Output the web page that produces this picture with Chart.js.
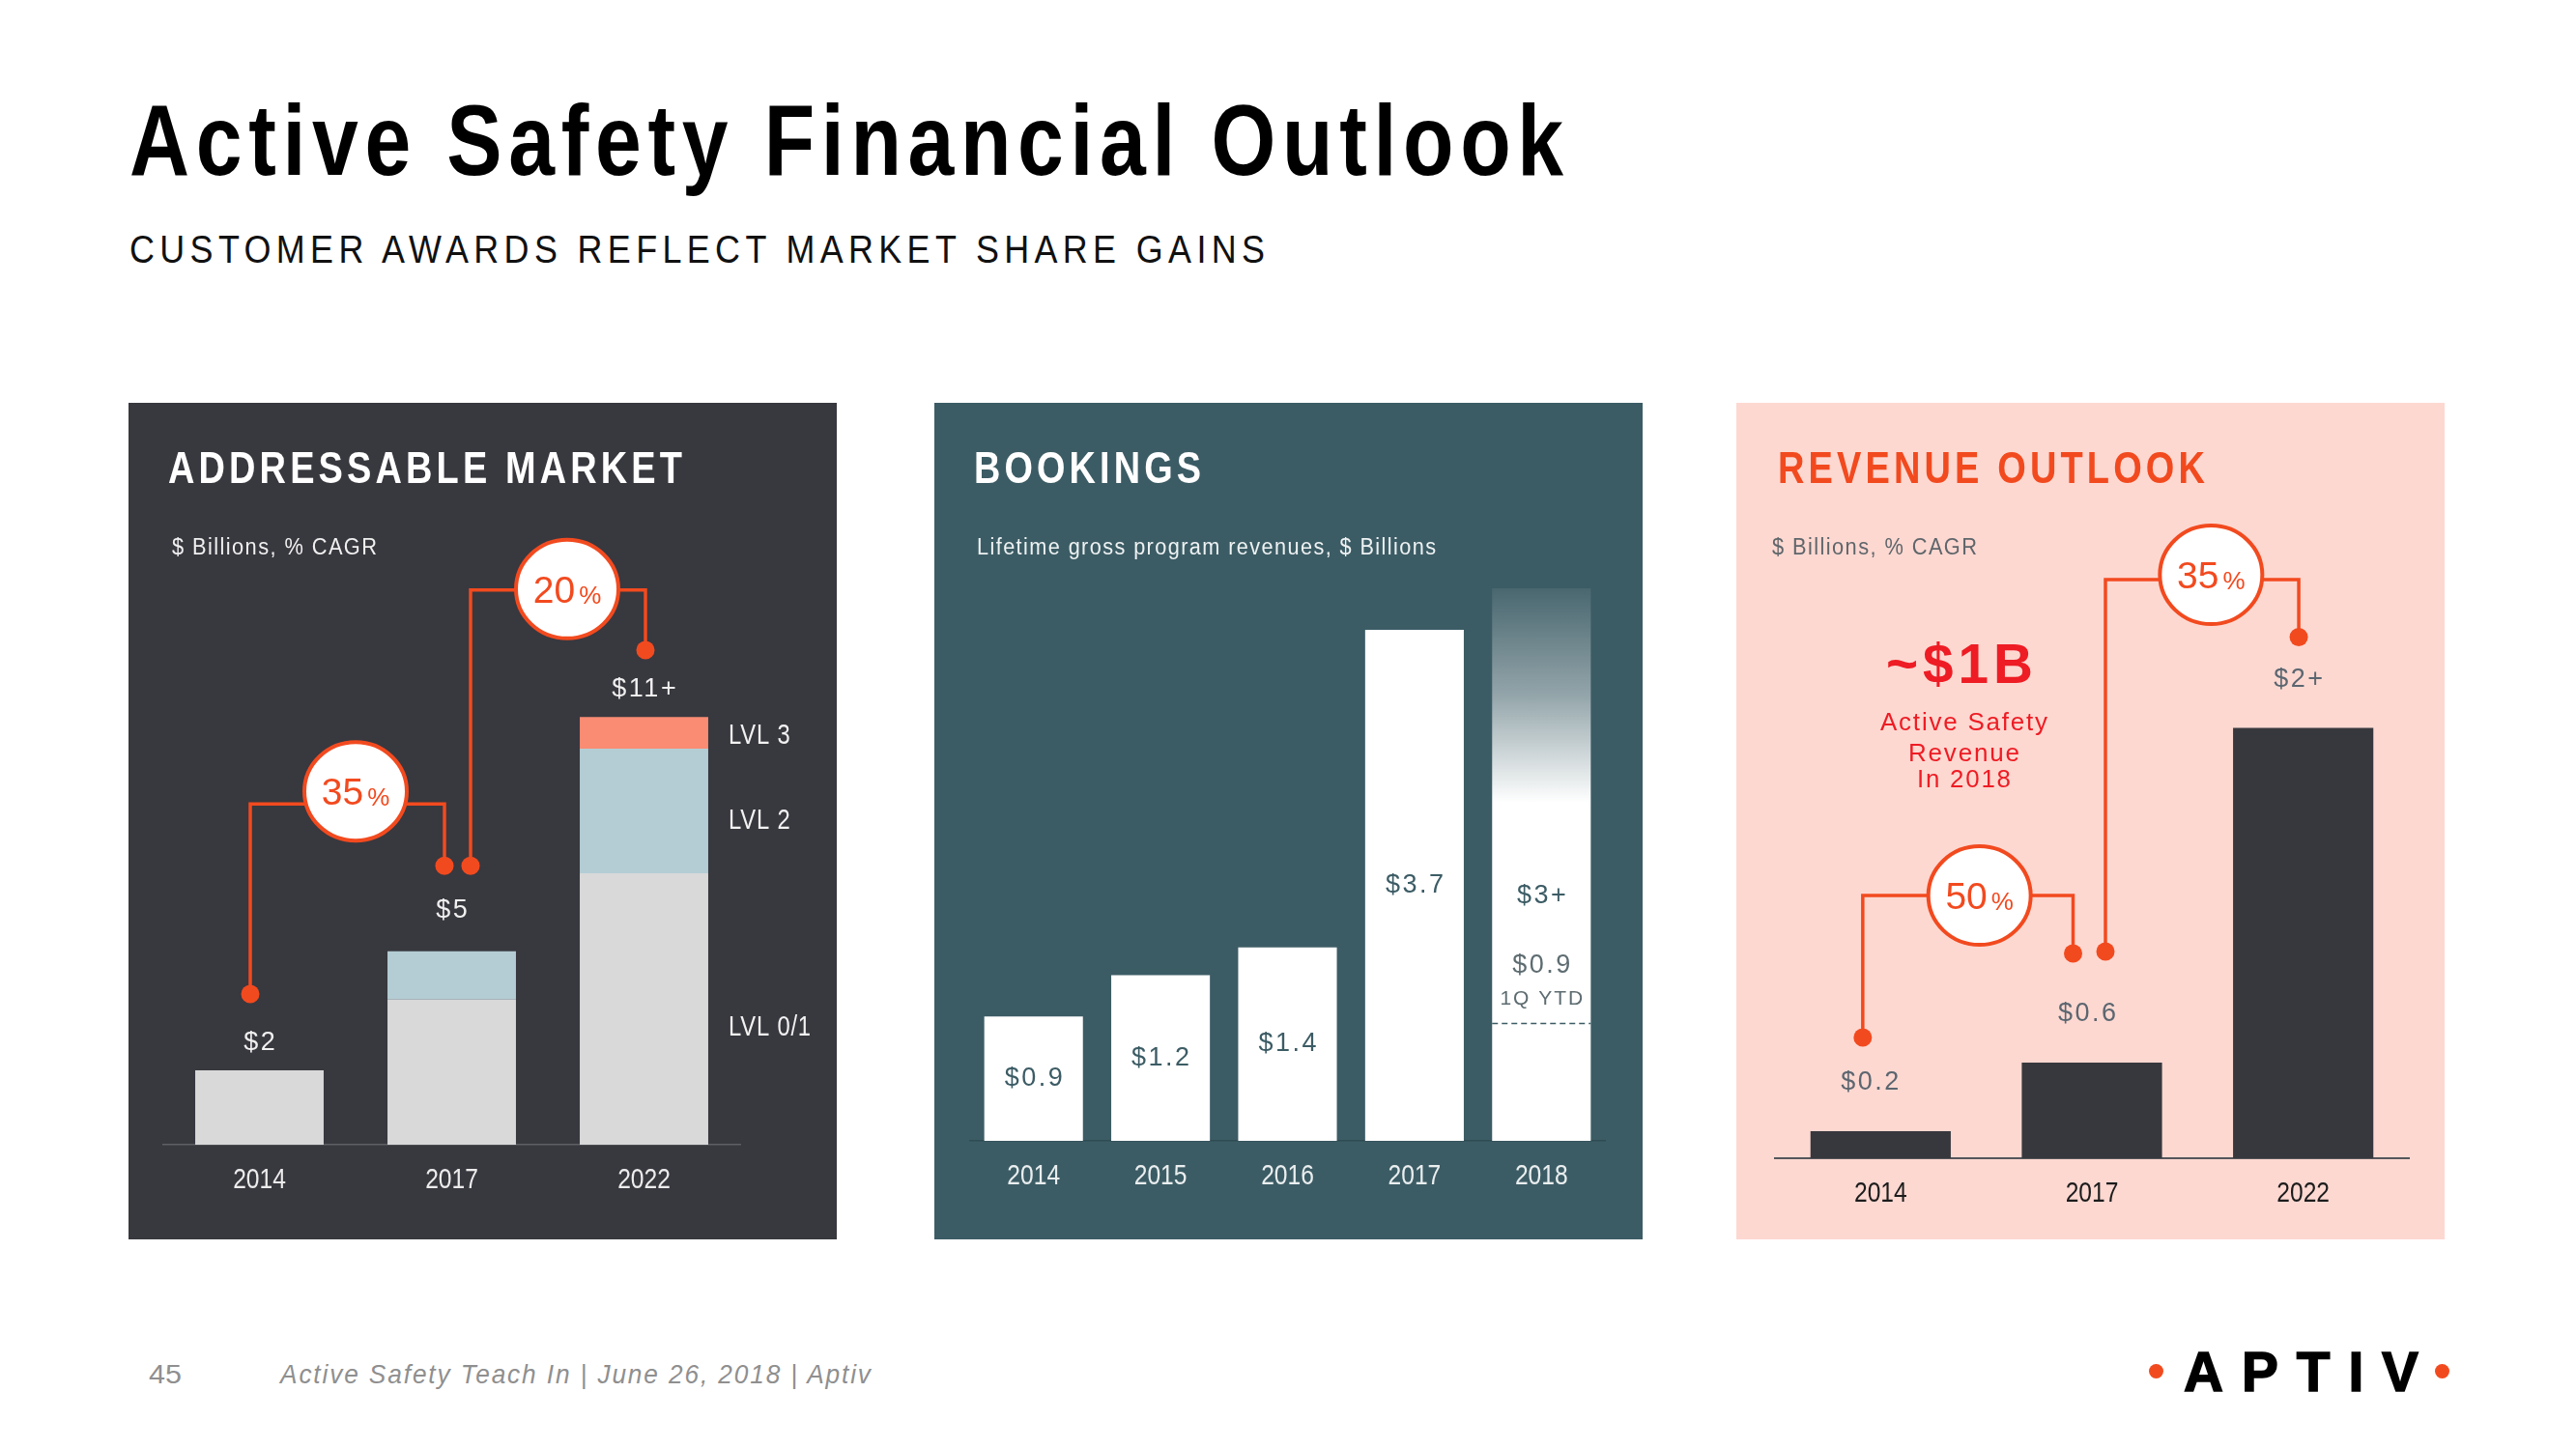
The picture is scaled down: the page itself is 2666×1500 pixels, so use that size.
<!DOCTYPE html>
<html>
<head>
<meta charset="utf-8">
<script src="https://cdn.jsdelivr.net/npm/chart.js@4.4.1/dist/chart.umd.min.js"></script>
<style>
  html, body { margin: 0; padding: 0; background: #ffffff; }
  body { width: 2666px; height: 1500px; position: relative; overflow: hidden;
         font-family: "Liberation Sans", Arial, sans-serif; }
  .t { position: absolute; white-space: nowrap; line-height: 1; }
  .narrow { font-family: "Liberation Sans Narrow", "Arial Narrow", "Liberation Sans", Arial, sans-serif; }
  .panel { position: absolute; top: 417px; width: 733px; height: 866px; }
  .panel canvas { position: absolute; left: 0; top: 0; }
</style>
</head>
<body>

<div class="t narrow fit" data-w="1484" style="left:134px;top:94px;font-size:103px;font-weight:bold;letter-spacing:8px;color:#000;">Active Safety Financial Outlook</div>
<div class="t narrow fit" data-w="1175" style="left:134px;top:238px;font-size:40px;letter-spacing:6px;color:#111;">CUSTOMER AWARDS REFLECT MARKET SHARE GAINS</div>

<div class="panel" style="left:133px;background:#38383f;"><canvas id="c1" width="733" height="866"></canvas></div>
<div class="panel" style="left:967px;background:#3c5c65;"><canvas id="c2" width="733" height="866"></canvas></div>
<div class="panel" style="left:1797px;background:#fdd8d1;"><canvas id="c3" width="733" height="866"></canvas></div>

<div class="t fit" data-w="532" style="left:174px;top:461px;font-size:46px;font-weight:bold;letter-spacing:5px;color:#ffffff;">ADDRESSABLE MARKET</div>
<div class="t fit" data-w="235" style="left:1008px;top:461px;font-size:46px;font-weight:bold;letter-spacing:5px;color:#ffffff;">BOOKINGS</div>
<div class="t fit" data-w="442" style="left:1840px;top:461px;font-size:46px;font-weight:bold;letter-spacing:5px;color:#f24a1f;">REVENUE OUTLOOK</div>

<div class="t fit" data-w="212" style="left:178px;top:555px;font-size:23px;letter-spacing:1.5px;color:#f0f0f0;">$ Billions, % CAGR</div>
<div class="t fit" data-w="475" style="left:1011px;top:555px;font-size:23px;letter-spacing:1.5px;color:#eef2f3;">Lifetime gross program revenues, $ Billions</div>
<div class="t fit" data-w="212" style="left:1834px;top:555px;font-size:23px;letter-spacing:1.5px;color:#5f666b;">$ Billions, % CAGR</div>

<div class="t fit" data-w="152" data-cx="2028" style="top:659px;font-size:57px;font-weight:bold;letter-spacing:5px;color:#ee1c24;">~$1B</div>
<div class="t fit" data-w="173" data-cx="2032" style="top:734px;font-size:26px;letter-spacing:1.8px;color:#ee1c24;">Active Safety</div>
<div class="t fit" data-w="115" data-cx="2032" style="top:766px;font-size:26px;letter-spacing:1.8px;color:#ee1c24;">Revenue</div>
<div class="t fit" data-w="97" data-cx="2032" style="top:793px;font-size:26px;letter-spacing:1.8px;color:#ee1c24;">In 2018</div>

<div class="t narrow fit" data-w="34" style="left:154px;top:1409px;font-size:28px;color:#8f8f8f;">45</div>
<div class="t narrow fit" data-w="611" style="left:290px;top:1409px;font-size:28px;font-style:italic;letter-spacing:2px;color:#8f8f8f;">Active Safety Teach In | June 26, 2018 | Aptiv</div>

<div class="t fit" data-w="243" style="left:2260px;top:1392px;font-size:57px;font-weight:bold;letter-spacing:19px;color:#000;-webkit-text-stroke:1.5px #000;">APTIV</div>
<div style="position:absolute;left:2224px;top:1412px;width:15px;height:15px;border-radius:50%;background:#f24a1f;"></div>
<div style="position:absolute;left:2520px;top:1412px;width:15px;height:15px;border-radius:50%;background:#f24a1f;"></div>

<script>
// ===================== DATA =====================
// Addressable market ($ Billions)
const amCategories = ['2014', '2017', '2022'];
const amLvl01 = [2.0, 3.9, 7.3];
const amLvl2 = [0, 1.3, 3.35];
const amLvl3 = [0, 0, 0.85];
const amSeriesNames = ['LVL 0/1', 'LVL 2', 'LVL 3'];
const amValueLabels = ['$2', '$5', '$11+'];
const amCagr = ['35', '20'];

// Bookings (lifetime gross program revenues, $ Billions)
const bkCategories = ['2014', '2015', '2016', '2017', '2018'];
const bkValues = [0.9, 1.2, 1.4, 3.7, 3.0];
const bkUpside = [0, 0, 0, 0, 1.0];
const bkValueLabels = ['$0.9', '$1.2', '$1.4', '$3.7', '$3+'];
const bkYtdValue = 0.85;
const bkYtdLabels = ['$0.9', '1Q YTD'];

// Revenue outlook ($ Billions)
const rvCategories = ['2014', '2017', '2022'];
const rvValues = [0.17, 0.6, 2.7];
const rvValueLabels = ['$0.2', '$0.6', '$2+'];
const rvCagr = ['50', '35'];

// ===================== STYLE =====================
const SANS = '"Liberation Sans", Arial, sans-serif';
const NARROW = '"Liberation Sans Narrow", "Arial Narrow", "Liberation Sans", Arial, sans-serif';
const ORANGE = '#f24a1f';

// horizontal squeeze for "narrow" canvas text when no narrow face is installed
const NARROW_SX = (function () {
  const c = document.createElement('canvas').getContext('2d');
  c.font = '30px ' + NARROW;
  const a = c.measureText('2014 LVL').width;
  c.font = '30px ' + SANS;
  const b = c.measureText('2014 LVL').width;
  return a / b < 0.92 ? 1 : 0.82;
})();

const AM_STYLE = {
  yMax: 16, pad: { left: 36, right: 100, top: 152 }, axisH: 98,
  colors: ['#d9d9d9', '#b4cdd4', '#f98c73'],
  labelDy: [28, 42, 29], labelColor: '#f0f0f0', tickColor: '#ececec', tickDy: 37,
  lvlDx: 21, lvlDy: [20, 11, 3],
  connectors: [
    { cxDx: 0, cy: 9.5, lineDy: 13, leftDx: -9.5, leftDot: 4.05, rightDx: -7.5, rightDot: 7.5 },
    { cxDx: 20, cy: 14.94, lineDy: 1, leftDx: 19.5, leftDot: 7.5, rightDx: 1.5, rightDot: 13.3 }
  ]
};
const BK_STYLE = {
  yMax: 5, pad: { left: 37, right: 39, top: 49 }, axisH: 102,
  labelColor: '#3c5c65', ytdColor: '#5d6c71', fadeEnd: 2.45, tickColor: '#eaeeef', tickDy: 37,
  labelDy: [0, 0, 0, 0, -39], ytdDy: [-60, -25]
};
const RV_STYLE = {
  yMax: 4, pad: { left: 40, right: 37, top: 122 }, axisH: 84,
  labelDy: 50, labelDx: [-11, -5, -5], labelColor: '#5b6670', tickColor: '#1c1c1c', tickDy: 37,
  connectors: [
    { cxDx: -7, cy: 1.648, lineDy: 0, leftDx: -18.5, leftDot: 0.758, rightDx: -19.5, rightDot: 1.285 },
    { cxDx: 14, cy: 3.66, lineDy: 5, leftDx: 14, leftDot: 1.297, rightDx: -4.6, rightDot: 3.27 }
  ]
};

// ===================== HELPERS =====================
function spacedText(ctx, text, x, y, font, color, spacing, align, sx) {
  sx = sx || 1;
  ctx.save();
  ctx.font = font;
  ctx.fillStyle = color;
  ctx.textBaseline = 'middle';
  ctx.textAlign = 'left';
  if ('letterSpacing' in ctx) ctx.letterSpacing = spacing + 'px'; else spacing = 0;
  const w = (ctx.measureText(text).width - spacing) * sx;
  const left = align === 'left' ? x : x - w / 2;
  ctx.translate(left, y);
  ctx.scale(sx, 1);
  ctx.fillText(text, 0, 0);
  ctx.restore();
}

function drawTicks(chart, labels, color, dy) {
  const x = chart.scales.x;
  const y0 = chart.chartArea.bottom + dy;
  labels.forEach((l, i) => {
    spacedText(chart.ctx, l, x.getPixelForValue(i), y0, '30px ' + NARROW, color, 0, 'center', NARROW_SX);
  });
}

function drawConnector(chart, from, to, c, text) {
  const { ctx } = chart;
  const x = chart.scales.x, y = chart.scales.y;
  const x0 = x.getPixelForValue(from), x1 = x.getPixelForValue(to);
  const cx = (x0 + x1) / 2 + c.cxDx, cy = y.getPixelForValue(c.cy);
  const ly = cy + c.lineDy;
  const lx = x0 + c.leftDx, rx = x1 + c.rightDx;
  const ldy = y.getPixelForValue(c.leftDot), rdy = y.getPixelForValue(c.rightDot);
  ctx.save();
  ctx.strokeStyle = ORANGE;
  ctx.lineWidth = 3.5;
  ctx.lineJoin = 'miter';
  ctx.beginPath(); ctx.moveTo(cx, ly); ctx.lineTo(lx, ly); ctx.lineTo(lx, ldy); ctx.stroke();
  ctx.beginPath(); ctx.moveTo(cx, ly); ctx.lineTo(rx, ly); ctx.lineTo(rx, rdy); ctx.stroke();
  ctx.fillStyle = ORANGE;
  [[lx, ldy], [rx, rdy]].forEach(([px, py]) => {
    ctx.beginPath(); ctx.arc(px, py, 9.5, 0, Math.PI * 2); ctx.fill();
  });
  ctx.beginPath();
  ctx.ellipse(cx, cy, 53, 51, 0, 0, Math.PI * 2);
  ctx.fillStyle = '#ffffff';
  ctx.fill();
  ctx.lineWidth = 4;
  ctx.strokeStyle = ORANGE;
  ctx.stroke();
  ctx.fillStyle = ORANGE;
  ctx.textBaseline = 'alphabetic';
  ctx.textAlign = 'left';
  ctx.font = '39px ' + SANS;
  const w1 = ctx.measureText(text).width;
  ctx.font = '26px ' + SANS;
  const w2 = ctx.measureText('%').width;
  const gap = 4;
  const start = cx - (w1 + gap + w2) / 2;
  const base = cy + 14;
  ctx.font = '39px ' + SANS;
  ctx.fillText(text, start, base);
  ctx.font = '26px ' + SANS;
  ctx.fillText('%', start + w1 + gap, base + 1);
  ctx.restore();
}

function xAxis(borderColor, borderWidth, axisH) {
  return {
    stacked: true,
    grid: { display: false, drawTicks: false },
    border: { display: true, color: borderColor, width: borderWidth },
    ticks: { display: false },
    afterFit: (s) => { s.height = axisH; }
  };
}

Chart.defaults.animation = false;
Chart.defaults.devicePixelRatio = 1;

// ===================== CHART 1: ADDRESSABLE MARKET =====================
const amOverlay = {
  id: 'amOverlay',
  afterDatasetsDraw(chart) {
    const { ctx } = chart;
    const x = chart.scales.x, y = chart.scales.y;
    drawTicks(chart, amCategories, AM_STYLE.tickColor, AM_STYLE.tickDy);
    amCategories.forEach((c, i) => {
      const total = amLvl01[i] + amLvl2[i] + amLvl3[i];
      spacedText(ctx, amValueLabels[i], x.getPixelForValue(i), y.getPixelForValue(total) - AM_STYLE.labelDy[i],
        '27px ' + SANS, AM_STYLE.labelColor, 2.5, 'center');
    });
    const last = amCategories.length - 1;
    const bar = chart.getDatasetMeta(0).data[last];
    const lx = bar.x + bar.width / 2 + AM_STYLE.lvlDx;
    const segs = [amLvl01, amLvl2, amLvl3];
    let base = 0;
    segs.forEach((s, k) => {
      const mid = y.getPixelForValue(base + s[last] / 2);
      spacedText(ctx, amSeriesNames[k], lx, mid + AM_STYLE.lvlDy[k], '29px ' + NARROW, '#f2f2f2', 1, 'left', NARROW_SX);
      base += s[last];
    });
    amCagr.forEach((t, k) => drawConnector(chart, k, k + 1, AM_STYLE.connectors[k], t));
  }
};

new Chart(document.getElementById('c1'), {
  type: 'bar',
  data: {
    labels: amCategories,
    datasets: [
      { label: amSeriesNames[0], data: amLvl01, backgroundColor: AM_STYLE.colors[0] },
      { label: amSeriesNames[1], data: amLvl2, backgroundColor: AM_STYLE.colors[1] },
      { label: amSeriesNames[2], data: amLvl3, backgroundColor: AM_STYLE.colors[2] }
    ]
  },
  options: {
    responsive: false,
    layout: { padding: { left: AM_STYLE.pad.left, right: AM_STYLE.pad.right, top: AM_STYLE.pad.top, bottom: 0 } },
    datasets: { bar: { categoryPercentage: 1, barPercentage: 0.668, borderWidth: 0 } },
    scales: {
      x: xAxis('#5f6066', 1.5, AM_STYLE.axisH),
      y: { stacked: true, display: false, min: 0, max: AM_STYLE.yMax }
    },
    plugins: { legend: { display: false }, tooltip: { enabled: false } }
  },
  plugins: [amOverlay]
});

// ===================== CHART 2: BOOKINGS =====================
function bkFill(context) {
  const chart = context.chart;
  if (context.dataIndex !== bkCategories.length - 1 || !chart.chartArea) return '#ffffff';
  const y = chart.scales.y;
  const i = context.dataIndex;
  const top = y.getPixelForValue(bkValues[i] + bkUpside[i]);
  const solid = y.getPixelForValue(BK_STYLE.fadeEnd);
  const g = chart.ctx.createLinearGradient(0, top, 0, solid);
  g.addColorStop(0, 'rgba(255,255,255,0.07)');
  g.addColorStop(0.5, 'rgba(255,255,255,0.45)');
  g.addColorStop(1, 'rgba(255,255,255,1)');
  return g;
}

const bkOverlay = {
  id: 'bkOverlay',
  afterDatasetsDraw(chart) {
    const { ctx } = chart;
    const x = chart.scales.x, y = chart.scales.y;
    drawTicks(chart, bkCategories, BK_STYLE.tickColor, BK_STYLE.tickDy);
    bkCategories.forEach((c, i) => {
      const mid = (y.getPixelForValue(bkValues[i]) + y.getPixelForValue(0)) / 2;
      spacedText(ctx, bkValueLabels[i], x.getPixelForValue(i), mid + BK_STYLE.labelDy[i],
        '27px ' + SANS, BK_STYLE.labelColor, 2.5, 'center');
    });
    const last = bkCategories.length - 1;
    const bar = chart.getDatasetMeta(0).data[last];
    const ly = Math.round(y.getPixelForValue(bkYtdValue)) + 0.5;
    ctx.save();
    ctx.strokeStyle = BK_STYLE.labelColor;
    ctx.lineWidth = 1.5;
    ctx.setLineDash([6, 4]);
    ctx.beginPath();
    ctx.moveTo(bar.x - bar.width / 2, ly);
    ctx.lineTo(bar.x + bar.width / 2, ly);
    ctx.stroke();
    ctx.restore();
    spacedText(ctx, bkYtdLabels[0], bar.x, ly + BK_STYLE.ytdDy[0], '27px ' + SANS, BK_STYLE.ytdColor, 2.5, 'center');
    spacedText(ctx, bkYtdLabels[1], bar.x, ly + BK_STYLE.ytdDy[1], '21px ' + SANS, BK_STYLE.ytdColor, 2, 'center');
  }
};

new Chart(document.getElementById('c2'), {
  type: 'bar',
  data: {
    labels: bkCategories,
    datasets: [
      { label: 'Bookings', data: bkValues, backgroundColor: bkFill },
      { label: 'Upside', data: bkUpside, backgroundColor: bkFill }
    ]
  },
  options: {
    responsive: false,
    layout: { padding: { left: BK_STYLE.pad.left, right: BK_STYLE.pad.right, top: BK_STYLE.pad.top, bottom: 0 } },
    datasets: { bar: { categoryPercentage: 1, barPercentage: 0.777, borderWidth: 0 } },
    scales: {
      x: xAxis('#2f4c54', 1.5, BK_STYLE.axisH),
      y: { stacked: true, display: false, min: 0, max: BK_STYLE.yMax }
    },
    plugins: { legend: { display: false }, tooltip: { enabled: false } }
  },
  plugins: [bkOverlay]
});

// ===================== CHART 3: REVENUE OUTLOOK =====================
const rvOverlay = {
  id: 'rvOverlay',
  afterDatasetsDraw(chart) {
    const { ctx } = chart;
    const x = chart.scales.x, y = chart.scales.y;
    drawTicks(chart, rvCategories, RV_STYLE.tickColor, RV_STYLE.tickDy);
    rvCategories.forEach((c, i) => {
      spacedText(ctx, rvValueLabels[i], x.getPixelForValue(i) + RV_STYLE.labelDx[i],
        y.getPixelForValue(rvValues[i]) - RV_STYLE.labelDy, '27px ' + SANS, RV_STYLE.labelColor, 2.5, 'center');
    });
    rvCagr.forEach((t, k) => drawConnector(chart, k, k + 1, RV_STYLE.connectors[k], t));
  }
};

new Chart(document.getElementById('c3'), {
  type: 'bar',
  data: {
    labels: rvCategories,
    datasets: [{ label: 'Revenue', data: rvValues, backgroundColor: '#37383e' }]
  },
  options: {
    responsive: false,
    layout: { padding: { left: RV_STYLE.pad.left, right: RV_STYLE.pad.right, top: RV_STYLE.pad.top, bottom: 0 } },
    datasets: { bar: { categoryPercentage: 1, barPercentage: 0.664, borderWidth: 0 } },
    scales: {
      x: xAxis('#55565b', 2, RV_STYLE.axisH),
      y: { display: false, min: 0, max: RV_STYLE.yMax }
    },
    plugins: { legend: { display: false }, tooltip: { enabled: false } }
  },
  plugins: [rvOverlay]
});

// ===================== TEXT FITTING =====================
document.querySelectorAll('.fit').forEach((el) => {
  const target = parseFloat(el.dataset.w);
  const ls = parseFloat(getComputedStyle(el).letterSpacing) || 0;
  const w = el.getBoundingClientRect().width - ls;
  if (el.dataset.cx) el.style.left = (parseFloat(el.dataset.cx) - target / 2) + 'px';
  el.style.transformOrigin = '0 0';
  el.style.transform = 'scaleX(' + (target / w).toFixed(4) + ')';
});
</script>
</body>
</html>
